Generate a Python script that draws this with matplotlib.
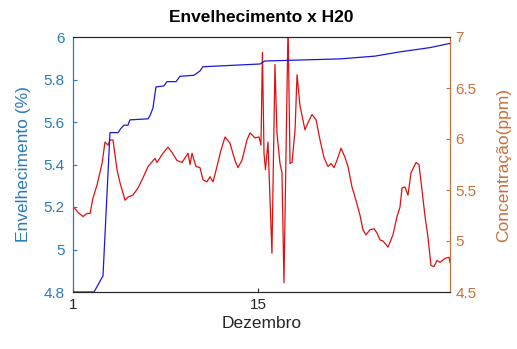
import matplotlib
matplotlib.use("Agg")
import matplotlib.pyplot as plt

plt.rcParams['font.family'] = ['Liberation Sans', 'DejaVu Sans']

# Aging (%) - left axis
days_env = [1.00, 2.59, 2.82, 3.12, 3.27, 3.80, 4.41, 4.63, 4.86, 5.16, 5.31,
            6.68, 6.83, 7.05, 7.28, 7.89, 8.11, 8.80, 9.10, 10.16, 10.61, 10.84,
            15.16, 15.53, 21.21, 23.86, 25.75, 28.02, 29.54]
env = [4.80, 4.80, 4.825, 4.86, 4.875, 5.55, 5.55, 5.57, 5.585, 5.585, 5.61,
       5.615, 5.63, 5.665, 5.765, 5.77, 5.79, 5.79, 5.815, 5.82, 5.84, 5.86,
       5.873, 5.887, 5.897, 5.91, 5.93, 5.95, 5.97]

# H2O concentration (ppm) - right axis
days_h2o = [1.00, 1.38, 1.76, 2.06, 2.29, 2.51, 2.82, 3.20, 3.42, 3.65, 3.80, 4.03,
            4.33, 4.56, 4.94, 5.16, 5.54, 5.92, 6.30, 6.68, 7.21, 7.36,
            7.81, 8.19, 8.49, 8.87, 9.25, 9.71, 9.86, 10.01, 10.31, 10.61, 10.84,
            11.14, 11.37, 11.60, 11.90, 12.20, 12.51, 12.88, 13.26, 13.49, 13.79,
            14.17, 14.40, 14.78, 15.08, 15.23, 15.34, 15.46, 15.57, 15.76, 16.06,
            16.29, 16.44, 16.67, 16.82, 16.97, 17.28, 17.43, 17.58, 17.81, 17.96,
            18.18, 18.56, 18.79, 19.09, 19.40, 19.70, 20.00, 20.30, 20.53, 20.76,
            20.98, 21.29, 21.59, 21.82, 22.12, 22.42, 22.73, 22.95, 23.18, 23.48,
            23.79, 24.01, 24.24, 24.47, 24.85, 25.22, 25.53, 25.75, 25.91, 26.13,
            26.36, 26.59, 26.97, 27.19, 27.42, 27.65, 27.87, 28.10, 28.33,
            28.56, 28.78, 29.16, 29.46, 29.54]
h2o = [5.34, 5.28, 5.24, 5.27, 5.27, 5.42, 5.55, 5.76, 5.97, 5.94, 5.99, 5.99,
       5.70, 5.57, 5.40, 5.43, 5.45, 5.52, 5.62, 5.73, 5.81, 5.77,
       5.86, 5.92, 5.87, 5.79, 5.77, 5.86, 5.75, 5.86, 5.73, 5.72, 5.60,
       5.58, 5.63, 5.58, 5.73, 5.89, 6.02, 5.96, 5.79, 5.72, 5.79,
       5.99, 6.06, 6.01, 6.02, 5.94, 6.85, 5.86, 5.70, 5.97, 4.88,
       6.73, 6.06, 5.76, 5.67, 4.59, 7.12, 5.76, 5.77, 6.09, 6.63,
       6.33, 6.09, 6.16, 6.24, 6.19, 5.99, 5.82, 5.73, 5.76, 5.72,
       5.79, 5.91, 5.82, 5.73, 5.53, 5.40, 5.25, 5.11, 5.06, 5.11,
       5.12, 5.08, 5.01, 5.00, 4.94, 5.06, 5.24, 5.33, 5.52, 5.53,
       5.45, 5.67, 5.77, 5.75, 5.50, 5.24, 5.04, 4.76, 4.75,
       4.81, 4.79, 4.83, 4.84, 4.79]

left_ticks = [4.8, 5, 5.2, 5.4, 5.6, 5.8, 6]
left_labels = ['4.8', '5', '5.2', '5.4', '5.6', '5.8', '6']
right_ticks = [4.5, 5, 5.5, 6, 6.5, 7]
right_labels = ['4.5', '5', '5.5', '6', '6.5', '7']
x_ticks = [1, 15]
x_labels = ['1', '15']

c_left = '#2a7ab8'
c_right = '#c8703a'
c_dark = '#262626'

fig = plt.figure(figsize=(5.17, 3.49), dpi=100)
ax = fig.add_axes([73/517, 1-292/349, (450-73)/517, (292-37)/349])
ax2 = ax.twinx()

ax.plot(days_env, env, color='#1a1ad8', lw=0.9, zorder=3)
ax2.plot(days_h2o, h2o, color='#e01010', lw=0.9)
ax.set_zorder(ax2.get_zorder() + 1)
ax.patch.set_visible(False)

ax.set_xlim(1, 29.54)
ax.set_ylim(4.8, 6)
ax2.set_ylim(4.5, 7)

ax.set_xticks(x_ticks)
ax.set_xticklabels(x_labels)
ax.set_yticks(left_ticks)
ax.set_yticklabels(left_labels)
ax2.set_yticks(right_ticks)
ax2.set_yticklabels(right_labels)

ax.tick_params(axis='x', direction='in', length=3, colors=c_dark, labelsize=11, pad=4, top=False)
ax.tick_params(axis='y', direction='in', length=3, colors=c_left, labelsize=11, pad=6)
ax2.tick_params(axis='y', direction='in', length=3, colors=c_right, labelsize=11, pad=4)

for a in (ax, ax2):
    a.spines['top'].set_color(c_dark)
    a.spines['bottom'].set_color(c_dark)
    a.spines['left'].set_color(c_left)
    a.spines['right'].set_color(c_right)
    for s in a.spines.values():
        s.set_linewidth(0.8)

ax.set_ylabel('Envelhecimento (%)', color=c_left, fontsize=12.5, labelpad=9)
ax2.set_ylabel('Concentração(ppm)', color=c_right, fontsize=12.5, labelpad=14)
ax.set_xlabel('Dezembro', color=c_dark, fontsize=12.5, labelpad=3)
ax.set_title('Envelhecimento x H20', fontsize=12.5, fontweight='bold', color='black', pad=11)

fig.savefig('out.png', dpi=100)
